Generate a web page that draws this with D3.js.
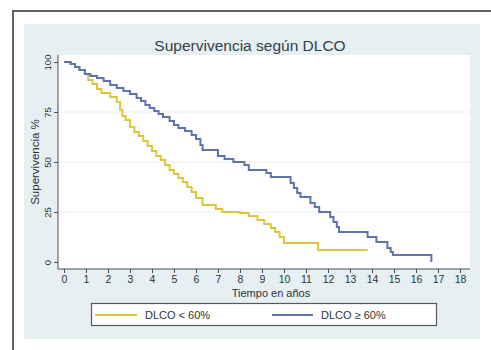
<!DOCTYPE html>
<html>
<head>
<meta charset="utf-8">
<script src="https://cdn.jsdelivr.net/npm/d3@7"></script>
<style>
  html, body { margin: 0; padding: 0; background: #ffffff; }
  svg { display: block; font-family: "Liberation Sans", Arial, sans-serif; }
</style>
</head>
<body>
<svg id="chart" width="491" height="350"></svg>
<script>
// Kaplan–Meier survival by DLCO group (time in years, survival in %)
const chartTitle = "Supervivencia según DLCO";
const xTitle = "Tiempo en años";
const yTitle = "Supervivencia %";
const seriesNames = ["DLCO < 60%", "DLCO ≥ 60%"];

const lowTimes = [0, 0.3, 0.5, 0.7, 0.95, 1.1, 1.3, 1.5, 1.7, 2.1, 2.4, 2.55, 2.65, 2.8, 3.0, 3.2, 3.4, 3.6, 3.8, 4.0, 4.2, 4.4, 4.6, 4.8, 5.0, 5.2, 5.4, 5.6, 5.8, 6.0, 6.3, 6.9, 7.2, 8.0, 8.4, 8.8, 9.1, 9.4, 9.6, 9.8, 10.0, 11.55, 13.8];
const lowSurv  = [100, 99, 97.5, 96, 94, 91, 89, 86.5, 84.5, 82.5, 80, 76, 73, 71, 67.5, 65, 63, 60.5, 58, 55.5, 53, 51, 48.5, 46, 44, 42, 40, 37.5, 35, 32, 28.5, 26.5, 25, 24.5, 23, 21, 19, 17, 15, 12.5, 9.5, 6, 6];

const highTimes = [0, 0.3, 0.5, 0.7, 0.95, 1.2, 1.5, 1.8, 2.1, 2.4, 2.7, 3.0, 3.3, 3.5, 3.7, 3.9, 4.1, 4.3, 4.5, 4.8, 5.0, 5.2, 5.5, 5.8, 6.0, 6.2, 6.3, 7.0, 7.3, 7.7, 8.2, 8.4, 9.2, 9.4, 10.3, 10.45, 10.6, 10.75, 11.2, 11.4, 11.6, 12.1, 12.25, 12.4, 12.5, 13.8, 14.2, 14.7, 14.85, 14.95, 16.7];
const highSurv  = [100, 99, 97.5, 96, 94, 93, 92, 90.5, 88.5, 87, 85.5, 84, 82, 80.5, 78.5, 77, 75.5, 74, 72.5, 70.5, 68.5, 67, 65.5, 63.5, 61.5, 58.5, 56, 53, 51.5, 50, 48.5, 46, 44.5, 42.5, 39.5, 37, 34.5, 32.5, 29.5, 27.5, 25, 22.5, 20, 17.5, 15, 12.5, 10, 7, 5, 3.5, 0];

const xTicks = d3.range(0, 19);
const yTicks = [0, 25, 50, 75, 100];
const colors = ["#dfc43c", "#6073aa"];
const textColor = "#2e3338";

const svg = d3.select("#chart");

// outer frame (top and left edges) and light graph region
svg.append("rect").attr("x", 24).attr("y", 24).attr("width", 456).attr("height", 315).attr("fill", "#e6eff1");
svg.append("line").attr("x1", 12).attr("x2", 491).attr("y1", 11).attr("y2", 11).attr("stroke", "#5f6466").attr("stroke-width", 2);
svg.append("line").attr("x1", 13).attr("x2", 13).attr("y1", 10).attr("y2", 350).attr("stroke", "#5f6466").attr("stroke-width", 2);

const x = d3.scaleLinear().domain([0, 18]).range([64, 460]);
const y = d3.scaleLinear().domain([0, 100]).range([262, 62]);

// plot region
svg.append("rect").attr("x", 58).attr("y", 55).attr("width", 412).attr("height", 214).attr("fill", "#ffffff");

// horizontal grid
svg.append("g").selectAll("line").data(yTicks.filter(d => d > 0 && d < 100)).join("line")
  .attr("x1", 59).attr("x2", 470)
  .attr("y1", d => y(d)).attr("y2", d => y(d))
  .attr("stroke", "#eaf0f2").attr("stroke-width", 1);

// title
svg.append("text").attr("x", 250).attr("y", 51).attr("text-anchor", "middle")
  .attr("font-size", 15.5).attr("fill", "#34404c").text(chartTitle);

// x axis
const xAxis = d3.axisBottom(x).tickValues(xTicks).tickSize(4).tickPadding(3).tickSizeOuter(0);
const gx = svg.append("g").attr("transform", "translate(0,269)").call(xAxis);
gx.select(".domain").attr("d", "M58,0H470").attr("stroke", "#4a4f55");
gx.selectAll(".tick line").attr("stroke", "#4a4f55");
gx.selectAll(".tick text").attr("font-size", 10.5).attr("fill", textColor).attr("font-family", "Liberation Sans, Arial, sans-serif");

svg.append("text").attr("x", 271).attr("y", 297).attr("text-anchor", "middle")
  .attr("font-size", 11).attr("fill", textColor).text(xTitle);

// y axis
const yAxis = d3.axisLeft(y).tickValues(yTicks).tickSize(4).tickSizeOuter(0);
const gy = svg.append("g").attr("transform", "translate(58,0)").call(yAxis);
gy.select(".domain").attr("d", "M0,55V269").attr("stroke", "#4a4f55");
gy.selectAll(".tick line").attr("stroke", "#4a4f55");
gy.selectAll(".tick text")
  .attr("font-size", 9.5).attr("fill", textColor).attr("font-family", "Liberation Sans, Arial, sans-serif")
  .attr("x", null).attr("dy", null)
  .attr("text-anchor", "middle")
  .attr("transform", "translate(-7,0) rotate(-90)");

svg.append("text").attr("transform", `translate(39,${y(50)}) rotate(-90)`)
  .attr("text-anchor", "middle").attr("font-size", 11.5).attr("fill", textColor).text(yTitle);

// survival curves
const line = d3.line().x(d => x(d[0])).y(d => y(d[1])).curve(d3.curveStepAfter);
const series = [d3.zip(lowTimes, lowSurv), d3.zip(highTimes, highSurv)];
svg.append("g").selectAll("path").data(series).join("path")
  .attr("d", line)
  .attr("fill", "none")
  .attr("stroke", (d, i) => colors[i])
  .attr("stroke-width", 2);

// legend
svg.append("rect").attr("x", 91.5).attr("y", 303.5).attr("width", 345).attr("height", 22)
  .attr("fill", "#ffffff").attr("stroke", "#55595e").attr("stroke-width", 1.2);
const legendX = [[95, 137, 145], [272, 313, 321]];
seriesNames.forEach((name, i) => {
  svg.append("line").attr("x1", legendX[i][0]).attr("x2", legendX[i][1]).attr("y1", 315).attr("y2", 315)
    .attr("stroke", colors[i]).attr("stroke-width", 2);
  svg.append("text").attr("x", legendX[i][2]).attr("y", 319).attr("font-size", 11).attr("fill", textColor).text(name);
});
</script>
</body>
</html>
